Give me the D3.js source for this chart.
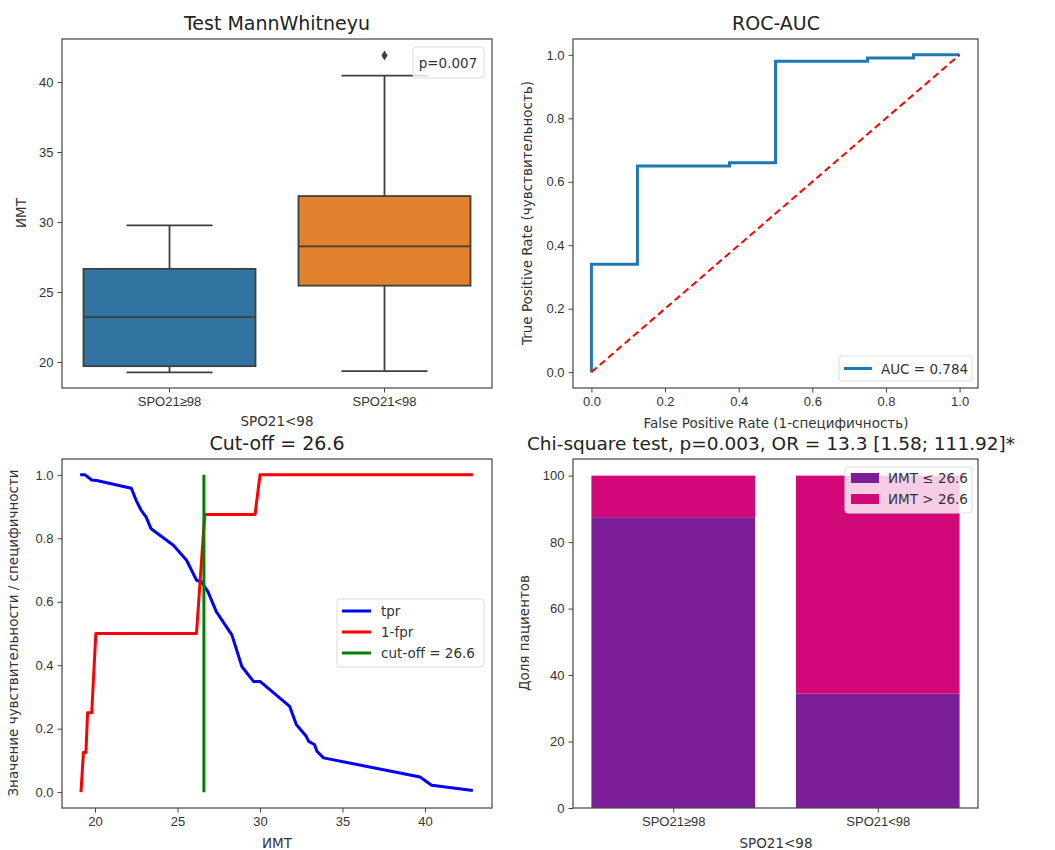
<!DOCTYPE html>
<html>
<head>
<meta charset="utf-8">
<script src="https://d3js.org/d3.v7.min.js"></script>
<style>
body { margin: 0; background: #fff; }
svg { font-family: "DejaVu Sans", sans-serif; }
.tick text { font-size: 13px; fill: #333; }
.tick line { stroke: #444; }
</style>
</head>
<body>
<svg id="chart" width="1055" height="850"></svg>
<script>
// ---- data ----
var groups = ['SPO21≥98', 'SPO21<98'];
var boxQ1 = [19.7, 25.45];
var boxMedian = [23.2, 28.25];
var boxQ3 = [26.65, 31.85];
var boxLow = [19.25, 19.35];
var boxHigh = [29.75, 40.45];
var boxOutliers = [[], [41.9]];
var boxColors = ['#3274a1', '#e1812c'];

var rocFpr = [0, 0, 0.125, 0.125, 0.375, 0.375, 0.5, 0.5, 0.75, 0.75, 0.875, 0.875, 1];
var rocTpr = [0, 0.34, 0.34, 0.65, 0.65, 0.66, 0.66, 0.98, 0.98, 0.99, 0.99, 1, 1];

var tprX = [19.1, 19.4, 19.8, 20.1, 22.2, 22.5, 22.8, 23.1, 23.4, 24.75, 25.55, 26.15, 26.45, 26.85, 27.35, 28.3, 28.9, 29.6, 30.0, 31.8, 32.2, 32.8, 32.95, 33.3, 33.45, 33.85, 39.7, 40.4, 42.9];
var tprY = [1.0, 1.0, 0.984, 0.982, 0.958, 0.919, 0.888, 0.867, 0.83, 0.778, 0.731, 0.668, 0.663, 0.631, 0.569, 0.495, 0.396, 0.349, 0.349, 0.27, 0.213, 0.176, 0.16, 0.15, 0.129, 0.108, 0.048, 0.022, 0.005];
var specX = [19.15, 19.3, 19.45, 19.55, 19.8, 20.05, 26.15, 26.65, 29.7, 30.0, 42.9];
var specY = [0.0, 0.125, 0.125, 0.25, 0.25, 0.5, 0.5, 0.875, 0.875, 1.0, 1.0];
var cutoff = 26.6;

var barLow = [87.5, 34.4];
var barHigh = [12.5, 65.6];
var barColors = ['#7b1e98', '#d30878'];
var barNames = ['ИМТ ≤ 26.6', 'ИМТ > 26.6'];

var svg = d3.select('#chart');

// frame + title helper
function frame(g, x0, y0, x1, y1) {
	g.append('rect').attr('x', x0).attr('y', y0).attr('width', x1 - x0).attr('height', y1 - y0)
		.attr('fill', 'none').attr('stroke', '#444').attr('stroke-width', 1.2);
}
function title(txt, x, y, size) {
	svg.append('text').attr('x', x).attr('y', y).attr('text-anchor', 'middle')
		.style('font-size', (size || 19) + 'px').attr('fill', '#222').text(txt);
}
function label(txt, x, y, rot, size) {
	var t = svg.append('text').attr('text-anchor', 'middle').style('font-size', (size || 13.5) + 'px').attr('fill', '#333').text(txt);
	if (rot) t.attr('transform', 'translate(' + x + ',' + y + ') rotate(-90)');
	else t.attr('x', x).attr('y', y);
}
function axes(xAxis, yAxis, top, bottom, left) {
	svg.append('g').attr('transform', 'translate(0,' + bottom + ')').call(xAxis).call(function(g) { g.select('.domain').remove(); });
	svg.append('g').attr('transform', 'translate(' + left + ',0)').call(yAxis).call(function(g) { g.select('.domain').remove(); });
}
function legendBox(x, y, w, h, fill) {
	svg.append('rect').attr('x', x).attr('y', y).attr('width', w).attr('height', h).attr('rx', 3)
		.attr('fill', fill || '#fff').attr('fill-opacity', 0.8).attr('stroke', '#ddd');
}

// ---------- panel 1: box plot ----------
var x1 = d3.scaleBand().domain(groups).range([62, 492]);
var y1 = d3.scaleLinear().domain([18.14, 43.07]).range([388, 39]);
var bw = x1.bandwidth() * 0.8;
var p1 = svg.append('g');
groups.forEach(function(gname, i) {
	var cx = x1(gname) + x1.bandwidth() / 2;
	var lc = '#3f3f3f';
	p1.append('line').attr('x1', cx).attr('x2', cx).attr('y1', y1(boxLow[i])).attr('y2', y1(boxQ1[i])).attr('stroke', lc).attr('stroke-width', 1.8);
	p1.append('line').attr('x1', cx).attr('x2', cx).attr('y1', y1(boxQ3[i])).attr('y2', y1(boxHigh[i])).attr('stroke', lc).attr('stroke-width', 1.8);
	p1.append('line').attr('x1', cx - bw / 4).attr('x2', cx + bw / 4).attr('y1', y1(boxLow[i])).attr('y2', y1(boxLow[i])).attr('stroke', lc).attr('stroke-width', 1.8);
	p1.append('line').attr('x1', cx - bw / 4).attr('x2', cx + bw / 4).attr('y1', y1(boxHigh[i])).attr('y2', y1(boxHigh[i])).attr('stroke', lc).attr('stroke-width', 1.8);
	p1.append('rect').attr('x', cx - bw / 2).attr('width', bw).attr('y', y1(boxQ3[i])).attr('height', y1(boxQ1[i]) - y1(boxQ3[i]))
		.attr('fill', boxColors[i]).attr('stroke', lc).attr('stroke-width', 1.8);
	p1.append('line').attr('x1', cx - bw / 2).attr('x2', cx + bw / 2).attr('y1', y1(boxMedian[i])).attr('y2', y1(boxMedian[i])).attr('stroke', lc).attr('stroke-width', 1.8);
	boxOutliers[i].forEach(function(v) {
		var yy = y1(v);
		p1.append('path').attr('d', 'M' + cx + ',' + (yy - 5) + 'L' + (cx + 3) + ',' + yy + 'L' + cx + ',' + (yy + 5) + 'L' + (cx - 3) + ',' + yy + 'Z').attr('fill', lc);
	});
});
frame(p1, 62, 39, 492, 388);
axes(d3.axisBottom(x1).tickSize(4.5).tickPadding(4), d3.axisLeft(y1).tickValues([20, 25, 30, 35, 40]).tickSize(4.5).tickPadding(4), 39, 388, 62);
legendBox(413, 47, 71, 31);
svg.append('text').attr('x', 448).attr('y', 67.5).attr('text-anchor', 'middle').style('font-size', '13.5px').attr('fill', '#333').text('p=0.007');
title('Test MannWhitneyu', 277, 29.5);
label('ИМТ', 26, 213, true);
label('SPO21<98', 277, 426);

// ---------- panel 2: ROC ----------
var x2 = d3.scaleLinear().domain([-0.05, 1.05]).range([573, 978]);
var y2 = d3.scaleLinear().domain([-0.05, 1.05]).range([388, 39]);
var rocData = rocFpr.map(function(f, i) { return [f, rocTpr[i]]; });
var line2 = d3.line().x(function(d) { return x2(d[0]); }).y(function(d) { return y2(d[1]); });
svg.append('path').datum(rocData).attr('d', line2).attr('fill', 'none').attr('stroke', '#1f77b4').attr('stroke-width', 3);
svg.append('path').datum([[0, 0], [1, 1]]).attr('d', line2).attr('fill', 'none').attr('stroke', '#ff0000').attr('stroke-width', 2).attr('stroke-dasharray', '7,4');
frame(svg, 573, 39, 978, 388);
var fmt1 = d3.format('.1f');
axes(d3.axisBottom(x2).tickValues([0, 0.2, 0.4, 0.6, 0.8, 1]).tickFormat(fmt1).tickSize(4.5).tickPadding(4),
	d3.axisLeft(y2).tickValues([0, 0.2, 0.4, 0.6, 0.8, 1]).tickFormat(fmt1).tickSize(4.5).tickPadding(4), 39, 388, 573);
legendBox(839, 356, 133, 25);
svg.append('line').attr('x1', 844).attr('x2', 872).attr('y1', 368.5).attr('y2', 368.5).attr('stroke', '#1f77b4').attr('stroke-width', 3);
svg.append('text').attr('x', 881).attr('y', 373.5).style('font-size', '13.5px').attr('fill', '#333').text('AUC = 0.784');
title('ROC-AUC', 776, 29.5);
label('True Positive Rate (чувствительность)', 532, 213, true, 13.5);
label('False Positive Rate (1-специфичность)', 776, 428, false, 13.5);

// ---------- panel 3: cut-off ----------
var x3 = d3.scaleLinear().domain([18.0, 44.06]).range([62, 492]);
var y3 = d3.scaleLinear().domain([-0.05, 1.05]).range([808, 459]);
var line3 = d3.line().x(function(d) { return x3(d[0]); }).y(function(d) { return y3(d[1]); });
var tprData = tprX.map(function(v, i) { return [v, tprY[i]]; });
var specData = specX.map(function(v, i) { return [v, specY[i]]; });
svg.append('path').datum(tprData).attr('d', line3).attr('fill', 'none').attr('stroke', '#0000ff').attr('stroke-width', 3).attr('stroke-linejoin', 'round');
svg.append('path').datum(specData).attr('d', line3).attr('fill', 'none').attr('stroke', '#ff0000').attr('stroke-width', 3).attr('stroke-linejoin', 'round');
svg.append('path').datum([[cutoff, 0], [cutoff, 1]]).attr('d', line3).attr('fill', 'none').attr('stroke', '#008000').attr('stroke-width', 3);
frame(svg, 62, 459, 492, 808);
axes(d3.axisBottom(x3).tickValues([20, 25, 30, 35, 40]).tickSize(4.5).tickPadding(4),
	d3.axisLeft(y3).tickValues([0, 0.2, 0.4, 0.6, 0.8, 1]).tickFormat(fmt1).tickSize(4.5).tickPadding(4), 459, 808, 62);
legendBox(337, 599, 147, 68);
var leg3 = [['tpr', '#0000ff'], ['1-fpr', '#ff0000'], ['cut-off = 26.6', '#008000']];
leg3.forEach(function(d, i) {
	var yy = 611 + i * 21;
	svg.append('line').attr('x1', 342).attr('x2', 371).attr('y1', yy).attr('y2', yy).attr('stroke', d[1]).attr('stroke-width', 3);
	svg.append('text').attr('x', 381).attr('y', yy + 5).style('font-size', '13.5px').attr('fill', '#333').text(d[0]);
});
title('Cut-off = 26.6', 277, 449.5);
label('Значение чувствительности / специфичности', 18, 633, true);
label('ИМТ', 277, 848);

// ---------- panel 4: stacked bars ----------
var x4 = d3.scaleLinear().domain([-0.49, 1.49]).range([573, 978]);
var y4 = d3.scaleLinear().domain([0, 105]).range([808, 459]);
var barW = x4(0.8) - x4(0);
groups.forEach(function(gname, i) {
	svg.append('rect').attr('x', x4(i - 0.4)).attr('width', barW).attr('y', y4(barLow[i])).attr('height', y4(0) - y4(barLow[i])).attr('fill', barColors[0]);
	svg.append('rect').attr('x', x4(i - 0.4)).attr('width', barW).attr('y', y4(barLow[i] + barHigh[i])).attr('height', y4(barLow[i]) - y4(barLow[i] + barHigh[i])).attr('fill', barColors[1]);
});
frame(svg, 573, 459, 978, 808);
axes(d3.axisBottom(x4).tickValues([0, 1]).tickFormat(function(d) { return groups[d]; }).tickSize(4.5).tickPadding(4),
	d3.axisLeft(y4).tickValues([0, 20, 40, 60, 80, 100]).tickSize(4.5).tickPadding(4), 459, 808, 573);
legendBox(845, 467, 127, 46);
barNames.forEach(function(n, i) {
	var yy = 478 + i * 21;
	svg.append('rect').attr('x', 851).attr('y', yy - 5).attr('width', 28).attr('height', 10).attr('fill', barColors[i]);
	svg.append('text').attr('x', 888).attr('y', yy + 5).style('font-size', '13.5px').attr('fill', '#333').text(n);
});
title('Chi-square test, p=0.003, OR = 13.3 [1.58; 111.92]*', 771, 449.5, 18.5);
label('Доля пациентов', 529, 633, true);
label('SPO21<98', 776, 848);
</script>
</body>
</html>
